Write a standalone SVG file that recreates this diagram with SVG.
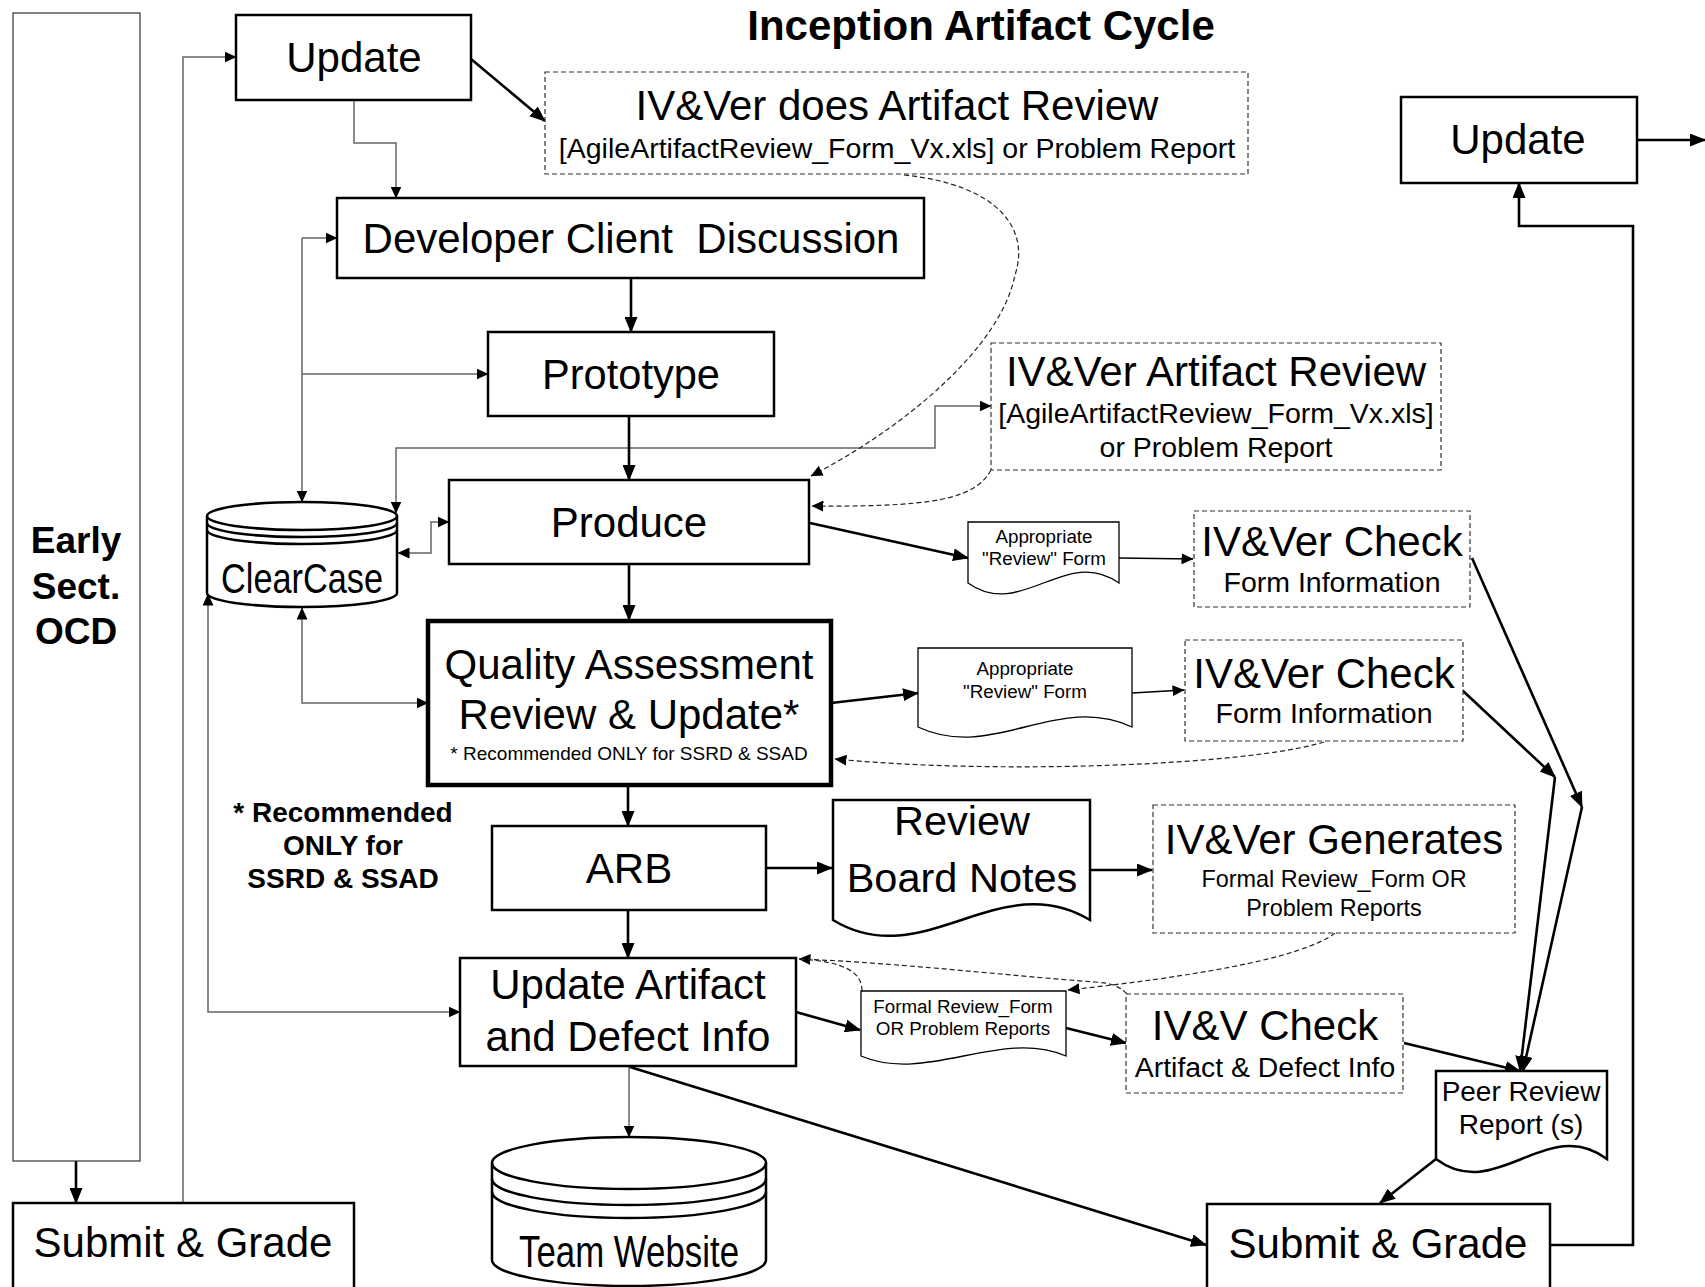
<svg xmlns="http://www.w3.org/2000/svg" width="1705" height="1287" viewBox="0 0 1705 1287">
<style>
text{font-family:"Liberation Sans",Arial,Helvetica,sans-serif;fill:#000;text-anchor:middle}
.b{font-weight:bold}
.box{fill:#fff;stroke:#000;stroke-width:2.5}
.thick{fill:#fff;stroke:#000;stroke-width:4.5}
.thin{fill:#fff;stroke:#333;stroke-width:1.2}
.dbox{fill:#fff;stroke:#333;stroke-width:1.2;stroke-dasharray:5 3}
.doc{fill:#fff;stroke:#000;stroke-width:1.3}
.docb{fill:#fff;stroke:#000;stroke-width:2.5}
.cyl{fill:#fff;stroke:#000;stroke-width:2.5}
.cl{fill:none;stroke:#000;stroke-width:2.5}
.k{fill:none;stroke:#000;stroke-width:2.6;marker-end:url(#ah)}
.kt{fill:none;stroke:#000;stroke-width:1.3;marker-end:url(#as)}
.g{fill:none;stroke:#666;stroke-width:1.5}
.ge{marker-end:url(#as)}
.gb{marker-start:url(#as);marker-end:url(#as)}
.d{fill:none;stroke:#222;stroke-width:1.2;stroke-dasharray:5 3}
.de{marker-end:url(#as)}
</style>
<defs>
<marker id="ah" viewBox="0 0 16 13" refX="15" refY="6.5" markerWidth="16" markerHeight="13" markerUnits="userSpaceOnUse" orient="auto-start-reverse"><path d="M0,0 L16,6.5 L0,13 z" fill="#000"/></marker>
<marker id="as" viewBox="0 0 12 11" refX="11.5" refY="5.5" markerWidth="12" markerHeight="11" markerUnits="userSpaceOnUse" orient="auto-start-reverse"><path d="M0,0 L12,5.5 L0,11 z" fill="#000"/></marker>
</defs>
<rect width="1705" height="1287" fill="#fff"/>

<text class="b" x="981" y="40" font-size="42">Inception Artifact Cycle</text>

<g id="connectors">
<path class="g ge" d="M183,1203 V57 H236"/>
<path class="g ge" d="M354,100 V143 H396 V198"/>
<path class="g ge" d="M302,238 H337"/>
<path class="g ge" d="M302,374 H488"/>
<path class="g ge" d="M302,238 V502"/>
<path class="g gb" d="M396,513 V448 H935 V406 H991"/>
<path class="g gb" d="M398,553 H431 V522 H449"/>
<path class="g gb" d="M302,608 V703 H428"/>
<path class="g gb" d="M208,594 V1012 H460"/>
<path class="g ge" d="M629,1066 V1137"/>
<path class="k" d="M471,59 L545,121"/>
<path class="k" d="M631,278 V332"/>
<path class="k" d="M629,416 V480"/>
<path class="k" d="M629,564 V620"/>
<path class="k" d="M628,786 V826"/>
<path class="k" d="M628,910 V958"/>
<path class="k" d="M810,523 L968,558"/>
<path class="k" d="M831,703 L918,693"/>
<path class="k" d="M766,868 H832"/>
<path class="k" d="M1090,870 H1152"/>
<path class="k" d="M796,1012 L860,1030"/>
<path class="k" d="M1066,1028 L1126,1043"/>
<path class="k" d="M1404,1043 L1520,1071"/>
<path class="k" d="M1472,558 L1582,807"/>
<path class="k" d="M1582,807 L1523,1071"/>
<path class="k" d="M1462,690 L1555,777"/>
<path class="k" d="M1555,777 L1520,1071"/>
<path class="k" d="M1436,1159 L1380,1203"/>
<path class="k" d="M630,1067 L1206,1245"/>
<path class="k" d="M1550,1245 H1633 V226 H1519 V183"/>
<path class="k" d="M1637,140 H1705"/>
<path class="k" d="M76,1161 V1203"/>
<path class="kt" d="M1119,558 L1193,559"/>
<path class="kt" d="M1132,693 L1184,690"/>
<path class="d de" d="M904,175 C1000,185 1030,230 1015,275 C1000,350 900,430 811,476"/>
<path class="d de" d="M991,470 C975,500 930,507 812,506"/>
<path class="d de" d="M1324,742 C1250,765 1000,775 835,759"/>
<path class="d de" d="M1127,994 C1118,985 1110,983 1095,982 C1000,975 900,963 799,959"/>
<path class="d" d="M862,991 C862,972 845,962 800,959"/>
<path class="d de" d="M1335,933 C1300,960 1180,978 1068,990"/>
</g>

<g id="early-sect">
<rect class="thin" x="13" y="13" width="127" height="1148"/>
<text class="b" x="76" y="553" font-size="37">Early</text>
<text class="b" x="76" y="599" font-size="37">Sect.</text>
<text class="b" x="76" y="644" font-size="37">OCD</text>
</g>

<g id="update-top">
<rect class="box" x="236" y="15" width="235" height="85"/>
<text x="354" y="72" font-size="42">Update</text>
</g>

<g id="ivver-does-review">
<rect class="dbox" x="545" y="72" width="703" height="102"/>
<text x="897" y="120" font-size="42">IV&amp;Ver does Artifact Review</text>
<text x="897" y="158" font-size="28.5">[AgileArtifactReview_Form_Vx.xls] or Problem Report</text>
</g>

<g id="developer-client">
<rect class="box" x="337" y="198" width="587" height="80"/>
<text x="631" y="253" font-size="42" xml:space="preserve">Developer Client  Discussion</text>
</g>

<g id="prototype">
<rect class="box" x="488" y="332" width="286" height="84"/>
<text x="631" y="389" font-size="41.6">Prototype</text>
</g>

<g id="ivver-artifact-review">
<rect class="dbox" x="991" y="343" width="450" height="127"/>
<text x="1216" y="386" font-size="42">IV&amp;Ver Artifact Review</text>
<text x="1216" y="423" font-size="28.5">[AgileArtifactReview_Form_Vx.xls]</text>
<text x="1216" y="457" font-size="28.5">or Problem Report</text>
</g>

<g id="produce">
<rect class="box" x="449" y="480" width="360" height="84"/>
<text x="629" y="537" font-size="42">Produce</text>
</g>

<g id="clearcase">
<path class="cyl" d="M207,516 A95,14 0 0 1 397,516 V593 A95,14 0 0 1 207,593 Z"/>
<path class="cl" d="M207,516 A95,14 0 0 0 397,516"/>
<path class="cl" d="M207,523 A95,14 0 0 0 397,523"/>
<path class="cl" d="M207,530 A95,14 0 0 0 397,530"/>
<text x="302" y="593" font-size="42" textLength="162" lengthAdjust="spacingAndGlyphs">ClearCase</text>
</g>

<g id="review-form-1">
<path class="doc" d="M968,522 H1119 V583 C1066,545 1021,621 968,583 Z"/>
<text x="1044" y="543" font-size="18.8">Appropriate</text>
<text x="1044" y="565" font-size="18.8">"Review" Form</text>
</g>

<g id="ivver-check-1">
<rect class="dbox" x="1194" y="511" width="276" height="96"/>
<text x="1332" y="556" font-size="42">IV&amp;Ver Check</text>
<text x="1332" y="592" font-size="28.5">Form Information</text>
</g>

<g id="quality-assessment">
<rect class="thick" x="428" y="621" width="403" height="164"/>
<text x="629" y="679" font-size="42">Quality Assessment</text>
<text x="629" y="729" font-size="42">Review &amp; Update*</text>
<text x="629" y="760" font-size="19">* Recommended ONLY for SSRD &amp; SSAD</text>
</g>

<g id="review-form-2">
<path class="doc" d="M918,648 H1132 V727 C1057,692 993,762 918,727 Z"/>
<text x="1025" y="675" font-size="18.8">Appropriate</text>
<text x="1025" y="698" font-size="18.8">"Review" Form</text>
</g>

<g id="ivver-check-2">
<rect class="dbox" x="1185" y="640" width="278" height="101"/>
<text x="1324" y="688" font-size="42">IV&amp;Ver Check</text>
<text x="1324" y="723" font-size="28.5">Form Information</text>
</g>

<g id="recommended-note">
<text class="b" x="343" y="822" font-size="28">* Recommended</text>
<text class="b" x="343" y="855" font-size="28">ONLY for</text>
<text class="b" x="343" y="888" font-size="28">SSRD &amp; SSAD</text>
</g>

<g id="arb">
<rect class="box" x="492" y="826" width="274" height="84"/>
<text x="629" y="883" font-size="42">ARB</text>
</g>

<g id="review-board-notes">
<path class="docb" d="M833,800 H1090 V920 C1000,865 923,975 833,920 Z"/>
<text x="962" y="835" font-size="41.5">Review</text>
<text x="962" y="892" font-size="41.5">Board Notes</text>
</g>

<g id="ivver-generates">
<rect class="dbox" x="1153" y="805" width="362" height="128"/>
<text x="1334" y="854" font-size="42">IV&amp;Ver Generates</text>
<text x="1334" y="887" font-size="23.4">Formal Review_Form OR</text>
<text x="1334" y="916" font-size="23.4">Problem Reports</text>
</g>

<g id="update-artifact">
<rect class="box" x="460" y="958" width="336" height="108"/>
<text x="628" y="999" font-size="42">Update Artifact</text>
<text x="628" y="1051" font-size="42">and Defect Info</text>
</g>

<g id="formal-review-form">
<path class="doc" d="M861,991 H1066 V1056 C1000,1028 927,1084 861,1056 Z"/>
<text x="963" y="1013" font-size="18.8">Formal Review_Form</text>
<text x="963" y="1035" font-size="18.8">OR Problem Reports</text>
</g>

<g id="ivv-check">
<rect class="dbox" x="1126" y="994" width="277" height="99"/>
<text x="1265" y="1040" font-size="42">IV&amp;V Check</text>
<text x="1265" y="1077" font-size="28.4">Artifact &amp; Defect Info</text>
</g>

<g id="peer-review-report">
<path class="docb" d="M1436,1071 H1607 V1159 C1547,1114 1496,1204 1436,1159 Z"/>
<text x="1521" y="1101" font-size="28">Peer Review</text>
<text x="1521" y="1134" font-size="28">Report (s)</text>
</g>

<g id="team-website">
<path class="cyl" d="M492,1163 A137,26 0 0 1 766,1163 V1260 A137,26 0 0 1 492,1260 Z"/>
<path class="cl" d="M492,1163 A137,26 0 0 0 766,1163"/>
<path class="cl" d="M492,1179 A137,26 0 0 0 766,1179"/>
<path class="cl" d="M492,1192 A137,26 0 0 0 766,1192"/>
<text x="629" y="1267" font-size="44" textLength="220" lengthAdjust="spacingAndGlyphs">Team Website</text>
</g>

<g id="submit-grade-left">
<rect class="box" x="13" y="1203" width="341" height="100"/>
<text x="183" y="1257" font-size="42">Submit &amp; Grade</text>
</g>

<g id="submit-grade-right">
<rect class="box" x="1207" y="1204" width="343" height="100"/>
<text x="1378" y="1258" font-size="42">Submit &amp; Grade</text>
</g>

<g id="update-right">
<rect class="box" x="1401" y="97" width="236" height="86"/>
<text x="1518" y="154" font-size="42">Update</text>
</g>
</svg>
